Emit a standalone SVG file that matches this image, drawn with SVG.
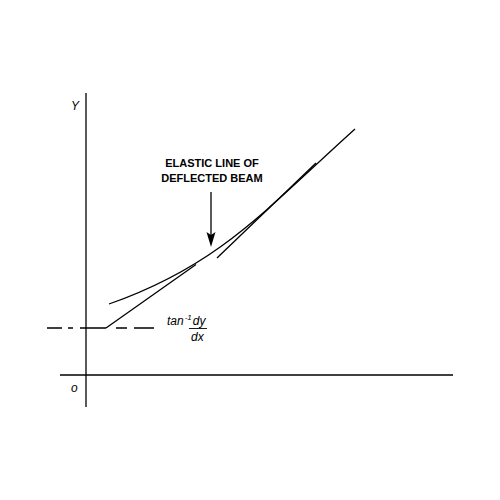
<svg xmlns="http://www.w3.org/2000/svg" width="500" height="500" viewBox="0 0 500 500">
<style>
.ln{stroke:#000;stroke-width:1.3;fill:none}
.lbl{font-family:"Liberation Sans",Arial,sans-serif;font-style:italic;font-size:12px;fill:#000}
.cap{font-family:"Liberation Sans",Arial,sans-serif;font-weight:bold;font-size:11px;fill:#000;text-anchor:middle}
</style>
<rect width="500" height="500" fill="#fff"/>
<g id="axes">
<line class="ln" x1="86" y1="93" x2="86" y2="407"/>
<line class="ln" x1="60" y1="375" x2="453" y2="375"/>
<text class="lbl" x="71" y="110">Y</text>
<text class="lbl" x="71" y="392">o</text>
</g>
<g id="connectors">
<path class="ln" d="M47,328H62M68,328H73M80,328H106M116,328H127M134,328H154"/>
<line class="ln" x1="106" y1="328" x2="196" y2="264.5"/>
<line class="ln" x1="217" y1="258" x2="316" y2="163"/>
<line class="ln" x1="211" y1="192" x2="211" y2="236"/>
<polygon points="206.5,232 211,247 215.5,232 211,235" fill="#000"/>
</g>
<g id="elastic-line">
<path class="ln" d="M109,304 C219,265.5 265,210 355,129"/>
</g>
<g id="label">
<text class="cap" x="212" y="167">ELASTIC LINE OF</text>
<text class="cap" x="212" y="182">DEFLECTED BEAM</text>
</g>
<g id="slope-label">
<text class="lbl" x="167" y="325">tan<tspan dx="1" dy="-5" font-size="8">-1</tspan><tspan dx="1" dy="5">dy</tspan></text>
<line x1="189" y1="328.5" x2="207" y2="328.5" stroke="#000" stroke-width="0.9"/>
<text class="lbl" x="191" y="341">dx</text>
</g>
</svg>
